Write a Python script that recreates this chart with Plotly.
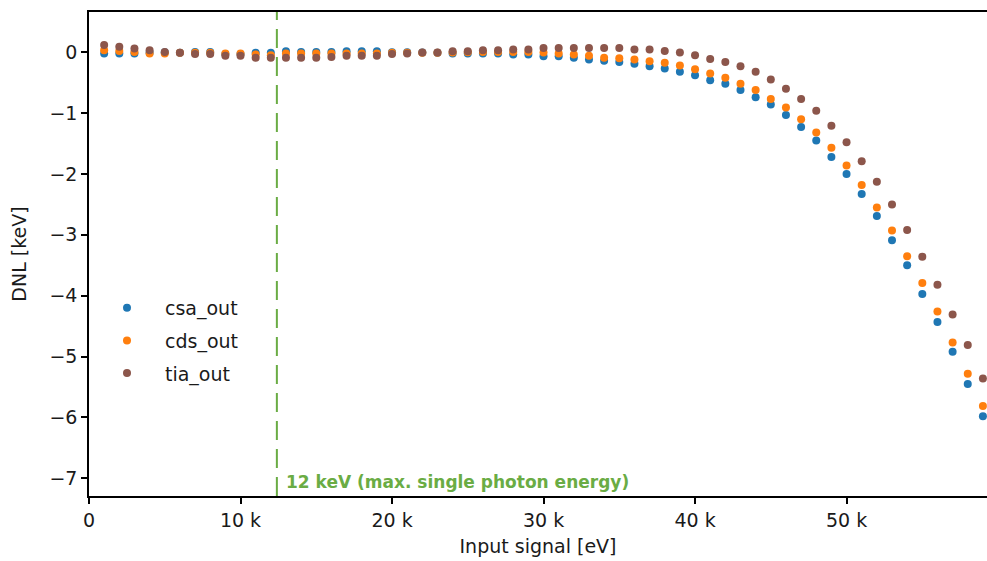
import plotly.graph_objects as go

x_ev = [i * 1000 for i in range(1, 60)]

csa_out = [-0.02, -0.02, -0.02, -0.01, 0.0, -0.01, 0.005, 0.005, -0.03, -0.03,
           -0.01, -0.01, 0.015, 0.005, 0.005, 0.005, 0.015, 0.015, 0.015, 0.0,
           0.0, -0.005, -0.01, -0.02, -0.02, -0.02, -0.02, -0.04, -0.04, -0.065,
           -0.065, -0.09, -0.12, -0.14, -0.16, -0.19, -0.23, -0.27, -0.32, -0.38,
           -0.46, -0.52, -0.62, -0.74, -0.86, -1.03, -1.23, -1.45, -1.72, -2.0,
           -2.33, -2.69, -3.09, -3.50, -3.97, -4.43, -4.92, -5.45, -5.98]

cds_out = [0.03, 0.02, 0.005, -0.02, -0.02, -0.01, -0.01, -0.01, -0.02, -0.02,
           -0.04, -0.05, -0.02, -0.02, -0.02, -0.02, -0.02, -0.02, -0.02, -0.01,
           -0.01, -0.01, -0.01, -0.005, 0.0, 0.005, 0.005, 0.005, 0.005, -0.005,
           -0.02, -0.04, -0.06, -0.09, -0.10, -0.12, -0.15, -0.175, -0.22, -0.28,
           -0.35, -0.42, -0.52, -0.62, -0.77, -0.91, -1.10, -1.32, -1.57, -1.86,
           -2.18, -2.55, -2.93, -3.35, -3.79, -4.26, -4.77, -5.28, -5.81]

tia_out = [0.12, 0.09, 0.06, 0.03, 0.005, -0.01, -0.03, -0.03, -0.06, -0.06,
           -0.09, -0.09, -0.09, -0.09, -0.09, -0.08, -0.06, -0.06, -0.06, -0.03,
           -0.02, -0.005, -0.005, 0.015, 0.015, 0.03, 0.03, 0.045, 0.045, 0.07,
           0.07, 0.07, 0.07, 0.07, 0.07, 0.045, 0.045, 0.02, -0.005, -0.05,
           -0.11, -0.16, -0.23, -0.32, -0.45, -0.60, -0.77, -0.96, -1.21, -1.48,
           -1.79, -2.13, -2.50, -2.92, -3.36, -3.82, -4.31, -4.81, -5.36]

series_names = ["csa_out", "cds_out", "tia_out"]
series_colors = ["#1f77b4", "#ff7f0e", "#8c564b"]

x_tickvals = [0, 10000, 20000, 30000, 40000, 50000]
x_ticktext = ["0", "10 k", "20 k", "30 k", "40 k", "50 k"]
y_tickvals = [0, -1, -2, -3, -4, -5, -6, -7]
y_ticktext = ["0", "\u22121", "\u22122", "\u22123", "\u22124", "\u22125", "\u22126", "\u22127"]

max_photon_ev = 12400
annot_text = "<b>12 keV (max. single photon energy)</b>"

FONT = "DejaVu Sans"
FS = 19
fig = go.Figure()
for name, ys, col in zip(series_names, [csa_out, cds_out, tia_out], series_colors):
    fig.add_trace(go.Scatter(
        x=x_ev, y=ys, mode="markers", name=name, legendgroup=name,
        marker=dict(color=col, size=8, line=dict(width=0)),
    ))

fig.add_shape(type="line", x0=max_photon_ev, x1=max_photon_ev, xref="x",
              y0=0, y1=1, yref="y domain",
              line=dict(color="#6aac44", width=2, dash="19px,9px"))
fig.add_annotation(x=max_photon_ev, y=-7.06, xref="x", yref="y",
                   text=annot_text, showarrow=False, xanchor="left", yanchor="middle",
                   xshift=7, font=dict(family=FONT, size=17, color="#6aac44"))

fig.update_layout(
    width=987, height=561, autosize=False,
    margin=dict(l=89, r=0, t=12, b=65, autoexpand=False),
    plot_bgcolor="white", paper_bgcolor="white",
    font=dict(family=FONT, size=FS, color="#1a1a1a"),
    showlegend=True,
    legend=dict(x=0.0, y=0.428, xanchor="left", yanchor="top",
                bgcolor="rgba(0,0,0,0)", font=dict(family=FONT, size=FS),
                tracegroupgap=5, itemwidth=66),
    xaxis=dict(range=[0, 59270], tickvals=x_tickvals, ticktext=x_ticktext,
               automargin=False,
               showline=True, linecolor="black", linewidth=1.5, mirror=True,
               ticks="outside", ticklen=6, tickcolor="black", tickwidth=1.5,
               showgrid=False, zeroline=False,
               title=dict(text="Input signal [eV]", font=dict(size=FS), standoff=10)),
    yaxis=dict(range=[-7.29, 0.66], tickvals=y_tickvals, ticktext=y_ticktext,
               automargin=False,
               showline=True, linecolor="black", linewidth=1.5,
               ticks="outside", ticklen=6, tickcolor="black", tickwidth=1.5,
               showgrid=False, zeroline=False,
               title=dict(text="DNL [keV]", font=dict(size=FS), standoff=18)),
)

post = ("document.body.style.margin='0';document.body.style.overflow='hidden';"
        "var gd=document.getElementById('{plot_id}');"
        "Plotly.relayout(gd,{width:987,height:561});")
fig.write_html("out.html", post_script=post,
               config={"responsive": False, "displayModeBar": False})
